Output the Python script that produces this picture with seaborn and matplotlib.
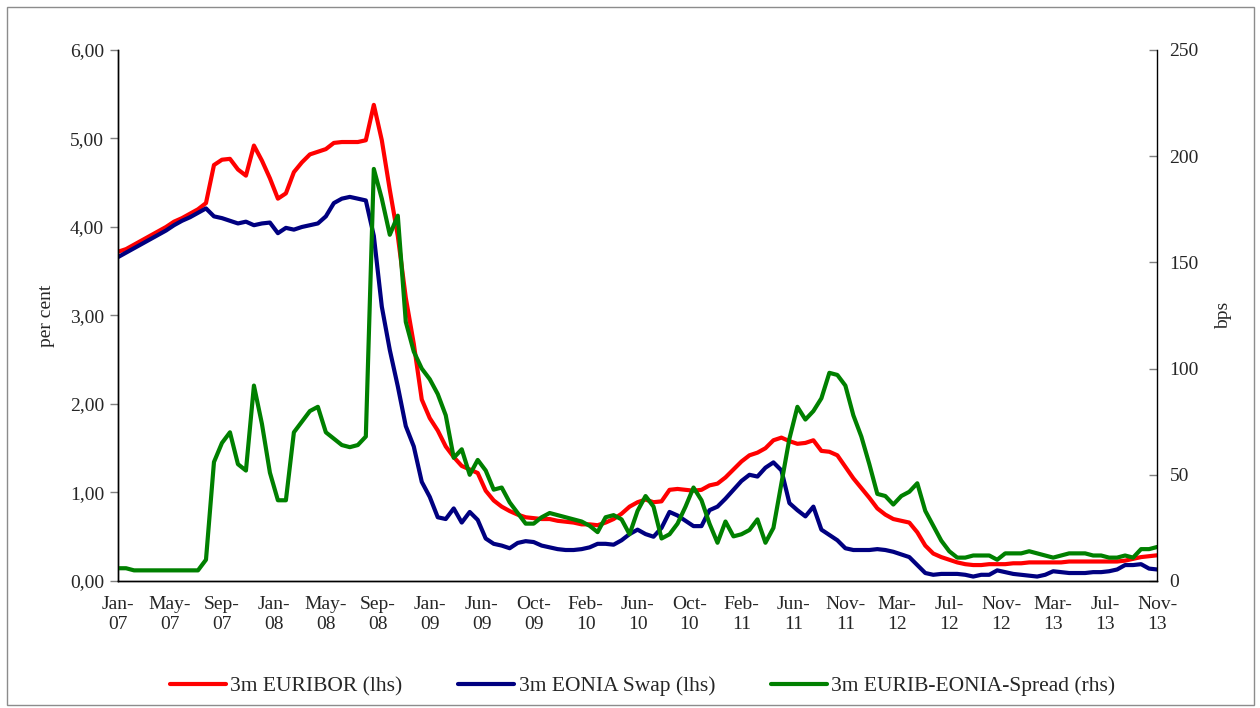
import numpy as np
import pandas as pd
import matplotlib.pyplot as plt
import seaborn as sns
from matplotlib.patches import Rectangle
from matplotlib.ticker import FuncFormatter

# x-axis labels (evenly spaced category labels, like the Excel source)
tick_labels = ['Jan-\n07', 'May-\n07', 'Sep-\n07', 'Jan-\n08', 'May-\n08', 'Sep-\n08',
               'Jan-\n09', 'Jun-\n09', 'Oct-\n09', 'Feb-\n10', 'Jun-\n10', 'Oct-\n10',
               'Feb-\n11', 'Jun-\n11', 'Nov-\n11', 'Mar-\n12', 'Jul-\n12', 'Nov-\n12',
               'Mar-\n13', 'Jul-\n13', 'Nov-\n13']

# 3m EURIBOR, per cent (~ semi-monthly)
euribor = [3.72, 3.75, 3.80, 3.85, 3.90, 3.95, 4.00, 4.06, 4.10, 4.15,
           4.20, 4.27, 4.70, 4.76, 4.77, 4.65, 4.58, 4.92, 4.75, 4.55,
           4.32, 4.38, 4.62, 4.73, 4.82, 4.85, 4.88, 4.95, 4.96, 4.96,
           4.96, 4.98, 5.38, 4.98, 4.42, 3.90, 3.20, 2.68, 2.05, 1.84,
           1.70, 1.52, 1.40, 1.30, 1.26, 1.22, 1.02, 0.91, 0.84, 0.79,
           0.75, 0.72, 0.71, 0.70, 0.70, 0.68, 0.67, 0.66, 0.64, 0.64,
           0.63, 0.66, 0.70, 0.76, 0.84, 0.89, 0.92, 0.89, 0.90, 1.03,
           1.04, 1.03, 1.02, 1.03, 1.08, 1.10, 1.17, 1.26, 1.35, 1.42,
           1.45, 1.50, 1.59, 1.62, 1.58, 1.55, 1.56, 1.59, 1.47, 1.46,
           1.42, 1.29, 1.16, 1.05, 0.94, 0.82, 0.75, 0.70, 0.68, 0.66,
           0.55, 0.40, 0.31, 0.27, 0.24, 0.21, 0.19, 0.18, 0.18, 0.19,
           0.19, 0.19, 0.20, 0.20, 0.21, 0.21, 0.21, 0.21, 0.21, 0.22,
           0.22, 0.22, 0.22, 0.22, 0.22, 0.22, 0.23, 0.25, 0.27, 0.28,
           0.29]

# 3m EONIA swap, per cent
eonia = [3.66, 3.71, 3.76, 3.81, 3.86, 3.91, 3.96, 4.02, 4.07, 4.11,
         4.16, 4.21, 4.12, 4.10, 4.07, 4.04, 4.06, 4.02, 4.04, 4.05,
         3.93, 3.99, 3.97, 4.00, 4.02, 4.04, 4.12, 4.27, 4.32, 4.34,
         4.32, 4.30, 3.90, 3.10, 2.61, 2.20, 1.75, 1.52, 1.12, 0.95,
         0.72, 0.70, 0.82, 0.66, 0.78, 0.69, 0.48, 0.42, 0.40, 0.37,
         0.43, 0.45, 0.44, 0.40, 0.38, 0.36, 0.35, 0.35, 0.36, 0.38,
         0.42, 0.42, 0.41, 0.46, 0.53, 0.58, 0.53, 0.50, 0.60, 0.78,
         0.74, 0.68, 0.62, 0.62, 0.80, 0.84, 0.93, 1.03, 1.13, 1.20,
         1.18, 1.28, 1.34, 1.25, 0.88, 0.80, 0.73, 0.84, 0.58, 0.52,
         0.46, 0.37, 0.35, 0.35, 0.35, 0.36, 0.35, 0.33, 0.30, 0.27,
         0.18, 0.09, 0.07, 0.08, 0.08, 0.08, 0.07, 0.05, 0.07, 0.07,
         0.12, 0.10, 0.08, 0.07, 0.06, 0.05, 0.07, 0.11, 0.10, 0.09,
         0.09, 0.09, 0.10, 0.10, 0.11, 0.13, 0.18, 0.18, 0.19, 0.14,
         0.13]

# 3m EURIBOR - EONIA spread, bps (right axis)
spread = [6, 6, 5, 5, 5, 5, 5, 5, 5, 5,
          5, 10, 56, 65, 70, 55, 52, 92, 74, 51,
          38, 38, 70, 75, 80, 82, 70, 67, 64, 63,
          64, 68, 194, 180, 163, 172, 122, 108, 100, 95,
          88, 78, 58, 62, 50, 57, 52, 43, 44, 37,
          32, 27, 27, 30, 32, 31, 30, 29, 28, 26,
          23, 30, 31, 29, 22, 33, 40, 35, 20, 22,
          27, 35, 44, 38, 27, 18, 28, 21, 22, 24,
          29, 18, 25, 46, 67, 82, 76, 80, 86, 98,
          97, 92, 78, 68, 55, 41, 40, 36, 40, 42,
          46, 33, 26, 19, 14, 11, 11, 12, 12, 12,
          10, 13, 13, 13, 14, 13, 12, 11, 12, 13,
          13, 13, 12, 12, 11, 11, 12, 11, 15, 15,
          16]

df = pd.DataFrame({'obs': np.arange(len(euribor)),
                   'euribor': euribor, 'eonia': eonia, 'spread': spread})

sns.set_style('white')
plt.rcParams['font.family'] = ['Liberation Serif', 'DejaVu Serif']

fig = plt.figure(figsize=(12.6, 7.08), dpi=100)
ax = fig.add_axes([0.0937, 0.1794, 0.8246, 0.75])
ax2 = ax.twinx()

sns.lineplot(data=df, x='obs', y='euribor', color='#ff0000', lw=3, ax=ax, label='3m EURIBOR (lhs)')
sns.lineplot(data=df, x='obs', y='eonia', color='#000080', lw=3, ax=ax, label='3m EONIA Swap (lhs)')
sns.lineplot(data=df, x='obs', y='spread', color='#008000', lw=3, ax=ax2, label='3m EURIB-EONIA-Spread (rhs)')

h1, l1 = ax.get_legend_handles_labels()
h2, l2 = ax2.get_legend_handles_labels()
ax.get_legend().remove()
ax2.get_legend().remove()

# axes
ax.set_xlim(0, len(euribor) - 1)
ax.set_xticks(np.linspace(0, len(euribor) - 1, len(tick_labels)), tick_labels)
ax.set_ylim(0, 6)
ax.set_yticks(range(0, 7))
ax.yaxis.set_major_formatter(FuncFormatter(lambda v, p: f'{v:.2f}'.replace('.', ',')))
ax2.set_ylim(0, 250)
ax2.set_yticks(range(0, 251, 50))

ax.set_xlabel('')
ax.set_ylabel('per cent', fontsize=14)
ax2.set_ylabel('bps', fontsize=14)
ax.yaxis.set_label_coords(-0.061, 0.5)
ax2.yaxis.set_label_coords(1.056, 0.5)

ax.tick_params(axis='x', length=0, pad=11, labelsize=14)
ax.tick_params(axis='y', direction='out', length=6, color='#808080', width=1, labelsize=14, pad=4)
ax2.tick_params(axis='y', direction='in', length=6, color='#808080', width=1, labelsize=14, pad=9)

for a in (ax, ax2):
    a.spines['top'].set_visible(False)
    for s in ('left', 'bottom', 'right'):
        a.spines[s].set_color('black')
        a.spines[s].set_linewidth(1)
ax.spines['right'].set_visible(False)

# legend below the plot
fig.legend(h1 + h2, l1 + l2, loc='center', bbox_to_anchor=(0.51, 0.031), ncol=3,
           frameon=False, fontsize=15.5, handlelength=2.6, columnspacing=2.6, handletextpad=0.2)

# thin frame around the whole chart
fig.patches.append(Rectangle((0.0056, 0.004), 0.99, 0.986, transform=fig.transFigure,
                             fill=False, edgecolor='#8c8c8c', lw=1))

fig.savefig('out.png', dpi=100)
